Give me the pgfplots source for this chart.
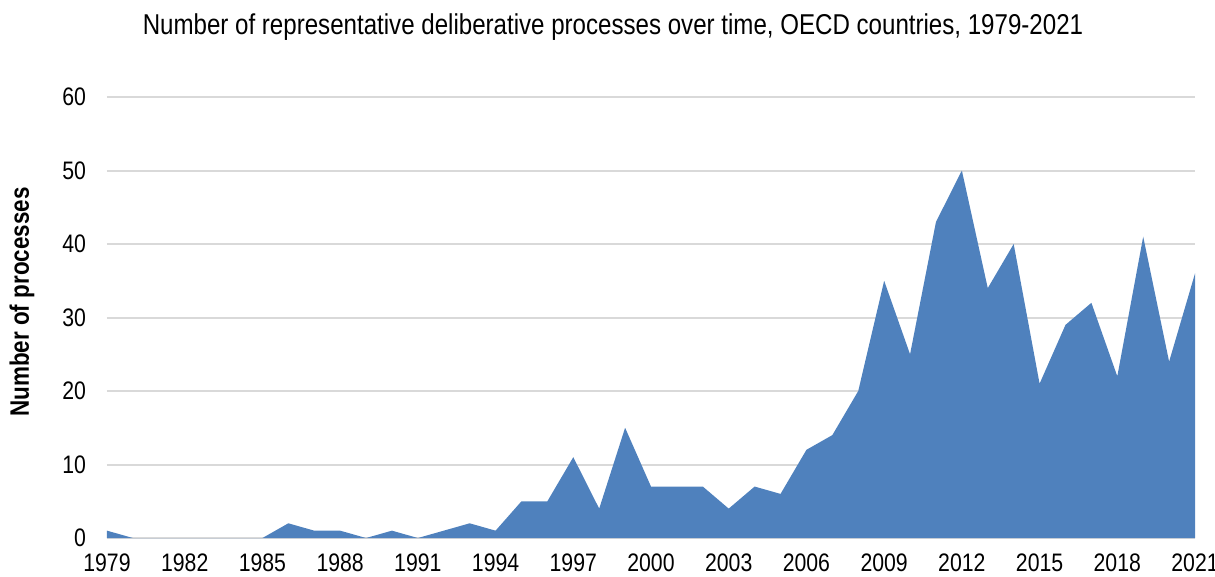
\documentclass[border=0pt]{standalone}
\usepackage{fontspec}
\setmainfont[FakeStretch=0.84]{Liberation Sans}
\usepackage{pgfplots}
\pgfplotsset{compat=1.18}
\definecolor{areablue}{HTML}{4F81BD}
\definecolor{gridgray}{HTML}{D9D9D9}
\begin{document}
\begin{tikzpicture}
\path[use as bounding box] (0,0) rectangle (607.5bp,-288.5bp);
\begin{axis}[
  at={(53.5bp,-269bp)}, anchor=south west,
  scale only axis, width=544bp, height=220.5bp,
  xmin=1979, xmax=2021, ymin=0, ymax=60,
  xtick={1979,1982,...,2021},
  ytick={0,10,...,60},
  /pgf/number format/assume math mode=true,
  /pgf/number format/1000 sep={},
  tick label style={font=\fontsize{12.7}{14}\selectfont, text=black},
  xticklabel style={yshift=-4.5bp},
  yticklabel style={xshift=-7bp},
  major tick length=0pt,
  axis x line*=bottom, axis y line*=left,
  x axis line style={gridgray, line width=1.2bp, -},
  y axis line style={draw=none},
  ymajorgrids, grid style={gridgray, line width=1bp},
  clip=false,
]
\addplot[fill=areablue, draw=none] coordinates {
(1979,1) (1980,0) (1981,0) (1982,0) (1983,0) (1984,0) (1985,0) (1986,2)
(1987,1) (1988,1) (1989,0) (1990,1) (1991,0) (1992,1) (1993,2) (1994,1)
(1995,5) (1996,5) (1997,11) (1998,4) (1999,15) (2000,7) (2001,7) (2002,7)
(2003,4) (2004,7) (2005,6) (2006,12) (2007,14) (2008,20) (2009,35) (2010,25)
(2011,43) (2012,50) (2013,34) (2014,40) (2015,21) (2016,29) (2017,32) (2018,22)
(2019,41) (2020,24) (2021,36)
} \closedcycle;
\end{axis}
\node[font=\fontsize{14.4}{17}\selectfont] at (306.5bp,-13.5bp) {Number of representative deliberative processes over time, OECD countries, 1979-2021};
\node[font=\fontsize{13.4}{16}\selectfont\bfseries, rotate=90] at (11bp,-151bp) {Number of processes};
\end{tikzpicture}
\end{document}
